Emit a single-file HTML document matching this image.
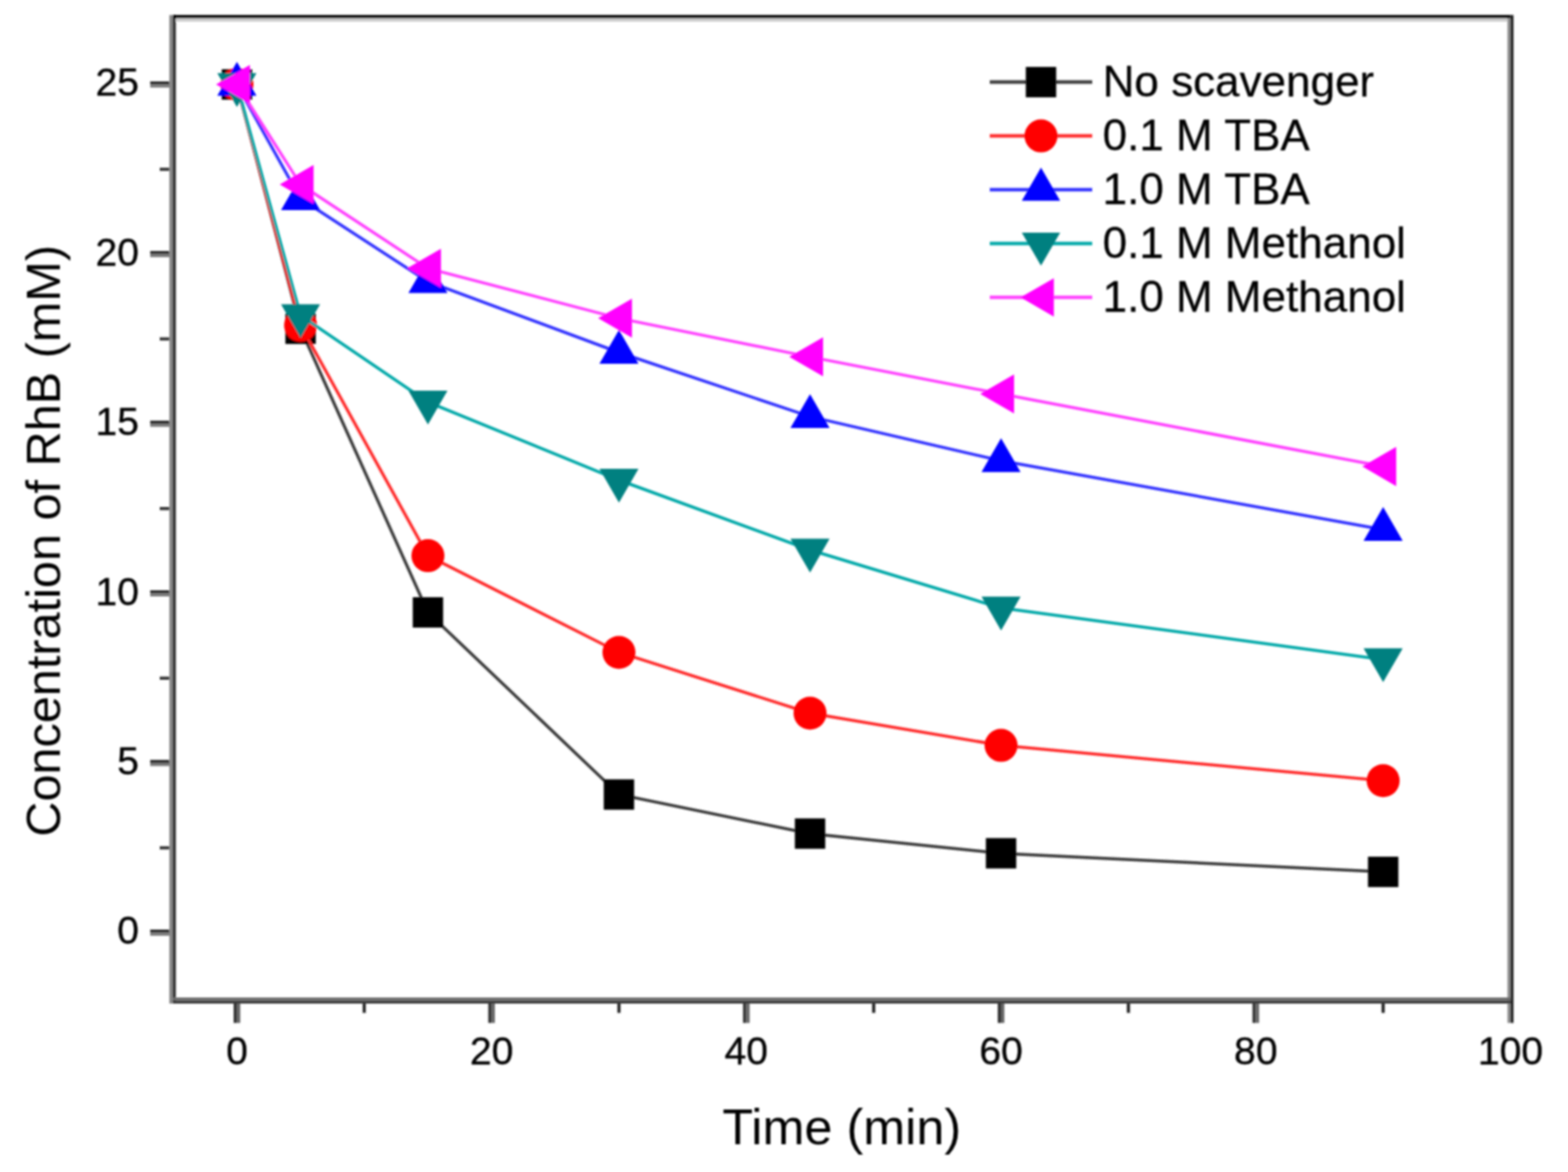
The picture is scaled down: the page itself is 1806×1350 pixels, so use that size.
<!DOCTYPE html>
<html><head><meta charset="utf-8"><title>Concentration of RhB vs Time</title>
<style>
html,body{margin:0;padding:0;background:#fff;}
body{width:1806px;height:1350px;overflow:hidden;}
svg{display:block;}
text{font-family:"Liberation Sans",Arial,sans-serif;fill:#000;}
</style></head><body>
<svg width="1806" height="1350" viewBox="0 0 1806 1350">
<defs><filter id="soft" filterUnits="userSpaceOnUse" x="0" y="0" width="1806" height="1350"><feGaussianBlur stdDeviation="1"/></filter></defs>
<rect width="1806" height="1350" fill="#fff"/>
<g filter="url(#soft)">
<g id="frame">
<rect x="195" y="17.3" width="4" height="1138.7" fill="#888"/>
<rect x="199" y="17.3" width="3.5" height="1138.7" fill="#2a2a2a"/>
<rect x="199" y="17.3" width="1540.8" height="4" fill="#000"/>
<rect x="202.5" y="21.3" width="1533.5" height="3.6" fill="#cccccc"/>
<rect x="1736.3" y="21.3" width="3.5" height="1134.7" fill="#8a8a8a"/>
<rect x="1739.8" y="17.3" width="3.4" height="1138.7" fill="#1e1e1e"/>
<rect x="199" y="1149" width="1540.8" height="3.6" fill="#6a6a6a"/>
<rect x="199" y="1152.6" width="1540.8" height="3.4" fill="#3a3a3a"/>
</g>
<g id="ticks">
<rect x="269.1" y="1156" width="3.8" height="22.3" fill="#333"/>
<rect x="272.9" y="1156" width="3.8" height="22.3" fill="#666"/>
<rect x="562.4" y="1156" width="3.8" height="22.3" fill="#333"/>
<rect x="566.2" y="1156" width="3.8" height="22.3" fill="#666"/>
<rect x="855.8" y="1156" width="3.8" height="22.3" fill="#333"/>
<rect x="859.6" y="1156" width="3.8" height="22.3" fill="#666"/>
<rect x="1149.2" y="1156" width="3.8" height="22.3" fill="#333"/>
<rect x="1153.0" y="1156" width="3.8" height="22.3" fill="#666"/>
<rect x="1442.6" y="1156" width="3.8" height="22.3" fill="#333"/>
<rect x="1446.4" y="1156" width="3.8" height="22.3" fill="#666"/>
<rect x="1736.3" y="1156" width="3.5" height="22.3" fill="#8a8a8a"/>
<rect x="1739.8" y="1156" width="3.4" height="22.3" fill="#1e1e1e"/>
<rect x="417.7" y="1156" width="3.6" height="10.7" fill="#222"/>
<rect x="711.1" y="1156" width="3.6" height="10.7" fill="#222"/>
<rect x="1004.5" y="1156" width="3.6" height="10.7" fill="#222"/>
<rect x="1297.9" y="1156" width="3.6" height="10.7" fill="#222"/>
<rect x="1591.3" y="1156" width="3.6" height="10.7" fill="#222"/>
<rect x="173" y="1070.8" width="22" height="3.5" fill="#222"/>
<rect x="173" y="1074.3" width="22" height="3.5" fill="#777"/>
<rect x="173" y="875.4" width="22" height="3.5" fill="#222"/>
<rect x="173" y="878.9" width="22" height="3.5" fill="#777"/>
<rect x="173" y="680.0" width="22" height="3.5" fill="#222"/>
<rect x="173" y="683.5" width="22" height="3.5" fill="#777"/>
<rect x="173" y="484.6" width="22" height="3.5" fill="#222"/>
<rect x="173" y="488.1" width="22" height="3.5" fill="#777"/>
<rect x="173" y="289.2" width="22" height="3.5" fill="#222"/>
<rect x="173" y="292.7" width="22" height="3.5" fill="#777"/>
<rect x="173" y="93.8" width="22" height="3.5" fill="#222"/>
<rect x="173" y="97.3" width="22" height="3.5" fill="#777"/>
<rect x="184" y="974.8" width="11" height="3.6" fill="#333"/>
<rect x="184" y="779.4" width="11" height="3.6" fill="#333"/>
<rect x="184" y="584.0" width="11" height="3.6" fill="#333"/>
<rect x="184" y="388.6" width="11" height="3.6" fill="#333"/>
<rect x="184" y="193.2" width="11" height="3.6" fill="#333"/>
</g>
<g id="ticklabels" font-size="45" stroke="#000" stroke-width="0.4">
<text x="272.9" y="1226" text-anchor="middle">0</text>
<text x="566.2" y="1226" text-anchor="middle">20</text>
<text x="859.6" y="1226" text-anchor="middle">40</text>
<text x="1153.0" y="1226" text-anchor="middle">60</text>
<text x="1446.4" y="1226" text-anchor="middle">80</text>
<text x="1739.8" y="1226" text-anchor="middle">100</text>
<text x="160" y="1087.3" text-anchor="end">0</text>
<text x="160" y="891.9" text-anchor="end">5</text>
<text x="160" y="696.5" text-anchor="end">10</text>
<text x="160" y="501.1" text-anchor="end">15</text>
<text x="160" y="305.7" text-anchor="end">20</text>
<text x="160" y="110.3" text-anchor="end">25</text>
</g>
<text x="969.5" y="1318" font-size="58" text-anchor="middle">Time (min)</text>
<text transform="translate(69,623) rotate(-90)" x="0" y="0" font-size="56" text-anchor="middle">Concentration of RhB (mM)</text>
<g id="data">
<polyline points="272.9,97.3 346.2,378.7 492.9,705.4 712.9,915.2 933.0,960.2 1153.0,982.9 1593.1,1004.3" fill="none" stroke="#3a3a3a" stroke-width="3.5"/>
<rect x="255.4" y="79.8" width="35.0" height="35.0" fill="#000000"/>
<rect x="328.7" y="361.2" width="35.0" height="35.0" fill="#000000"/>
<rect x="475.4" y="687.9" width="35.0" height="35.0" fill="#000000"/>
<rect x="695.4" y="897.7" width="35.0" height="35.0" fill="#000000"/>
<rect x="915.5" y="942.7" width="35.0" height="35.0" fill="#000000"/>
<rect x="1135.5" y="965.4" width="35.0" height="35.0" fill="#000000"/>
<rect x="1575.6" y="986.8" width="35.0" height="35.0" fill="#000000"/>
<polyline points="272.9,97.3 346.2,374.8 492.9,640.1 712.9,751.5 933.0,821.5 1153.0,858.6 1593.1,899.2" fill="none" stroke="#ff2a2a" stroke-width="3.5"/>
<circle cx="272.9" cy="97.3" r="19.0" fill="#ff0000"/>
<circle cx="346.2" cy="374.8" r="19.0" fill="#ff0000"/>
<circle cx="492.9" cy="640.1" r="19.0" fill="#ff0000"/>
<circle cx="712.9" cy="751.5" r="19.0" fill="#ff0000"/>
<circle cx="933.0" cy="821.5" r="19.0" fill="#ff0000"/>
<circle cx="1153.0" cy="858.6" r="19.0" fill="#ff0000"/>
<circle cx="1593.1" cy="899.2" r="19.0" fill="#ff0000"/>
<polyline points="272.9,97.3 346.2,229.0 492.9,324.4 712.9,406.0 933.0,479.9 1153.0,530.7 1593.1,610.0" fill="none" stroke="#3030ff" stroke-width="3.5"/>
<polygon points="272.9,71.3 295.4,110.3 250.3,110.3" fill="#0000ff"/>
<polygon points="346.2,203.0 368.7,242.0 323.7,242.0" fill="#0000ff"/>
<polygon points="492.9,298.4 515.4,337.4 470.4,337.4" fill="#0000ff"/>
<polygon points="712.9,380.0 735.4,419.0 690.4,419.0" fill="#0000ff"/>
<polygon points="933.0,453.9 955.5,492.9 910.4,492.9" fill="#0000ff"/>
<polygon points="1153.0,504.7 1175.5,543.7 1130.5,543.7" fill="#0000ff"/>
<polygon points="1593.1,584.0 1615.6,623.0 1570.5,623.0" fill="#0000ff"/>
<polyline points="272.9,97.3 346.2,363.4 492.9,463.1 712.9,553.0 933.0,633.5 1153.0,700.3 1593.1,759.7" fill="none" stroke="#00a8a8" stroke-width="3.5"/>
<polygon points="272.9,123.3 295.4,84.3 250.3,84.3" fill="#008080"/>
<polygon points="346.2,389.4 368.7,350.4 323.7,350.4" fill="#008080"/>
<polygon points="492.9,489.1 515.4,450.1 470.4,450.1" fill="#008080"/>
<polygon points="712.9,579.0 735.4,540.0 690.4,540.0" fill="#008080"/>
<polygon points="933.0,659.5 955.5,620.5 910.4,620.5" fill="#008080"/>
<polygon points="1153.0,726.3 1175.5,687.3 1130.5,687.3" fill="#008080"/>
<polygon points="1593.1,785.7 1615.6,746.7 1570.5,746.7" fill="#008080"/>
<polyline points="272.9,97.3 346.2,212.6 492.9,309.1 712.9,366.6 933.0,411.1 1153.0,453.7 1593.1,537.3" fill="none" stroke="#ff40ff" stroke-width="3.5"/>
<polygon points="248.9,97.3 287.9,74.8 287.9,119.8" fill="#ff00ff"/>
<polygon points="322.2,212.6 361.2,190.1 361.2,235.1" fill="#ff00ff"/>
<polygon points="468.9,309.1 507.9,286.6 507.9,331.6" fill="#ff00ff"/>
<polygon points="688.9,366.6 727.9,344.0 727.9,389.1" fill="#ff00ff"/>
<polygon points="909.0,411.1 948.0,388.6 948.0,433.6" fill="#ff00ff"/>
<polygon points="1129.0,453.7 1168.0,431.2 1168.0,476.2" fill="#ff00ff"/>
<polygon points="1569.1,537.3 1608.1,514.8 1608.1,559.9" fill="#ff00ff"/>
</g>
<g id="legend">
<line x1="1140" y1="94.6" x2="1258" y2="94.6" stroke="#3a3a3a" stroke-width="4"/>
<rect x="1181.5" y="77.1" width="35.0" height="35.0" fill="#000000"/>
<text x="1270" y="111" font-size="50.7" stroke="#000" stroke-width="0.3">No scavenger</text>
<line x1="1140" y1="156.6" x2="1258" y2="156.6" stroke="#ff2a2a" stroke-width="4"/>
<circle cx="1199.0" cy="156.6" r="19.0" fill="#ff0000"/>
<text x="1270" y="173" font-size="50.7" stroke="#000" stroke-width="0.3">0.1 M TBA</text>
<line x1="1140" y1="218.6" x2="1258" y2="218.6" stroke="#3030ff" stroke-width="4"/>
<polygon points="1199.0,193.1 1221.1,231.3 1176.9,231.3" fill="#0000ff"/>
<text x="1270" y="235" font-size="50.7" stroke="#000" stroke-width="0.3">1.0 M TBA</text>
<line x1="1140" y1="280.6" x2="1258" y2="280.6" stroke="#00a8a8" stroke-width="4"/>
<polygon points="1199.0,306.1 1221.1,267.9 1176.9,267.9" fill="#008080"/>
<text x="1270" y="297" font-size="50.7" stroke="#000" stroke-width="0.3">0.1 M Methanol</text>
<line x1="1140" y1="342.6" x2="1258" y2="342.6" stroke="#ff40ff" stroke-width="4"/>
<polygon points="1175.5,342.6 1213.8,320.5 1213.8,364.7" fill="#ff00ff"/>
<text x="1270" y="359" font-size="50.7" stroke="#000" stroke-width="0.3">1.0 M Methanol</text>
</g>
</g></svg></body></html>
